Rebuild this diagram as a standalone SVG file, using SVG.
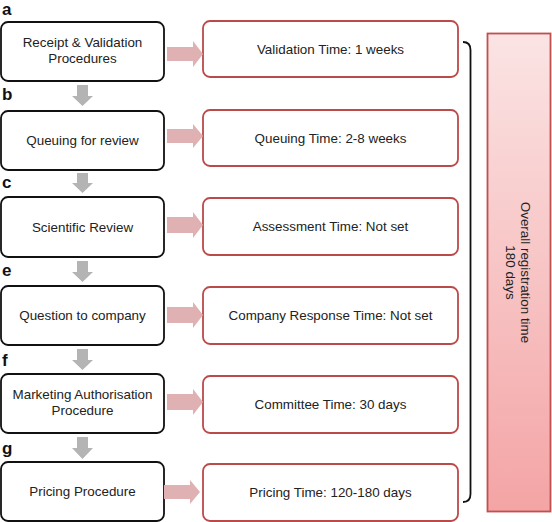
<svg xmlns="http://www.w3.org/2000/svg" width="552" height="522" viewBox="0 0 552 522">
<defs>
<linearGradient id="pinkGrad" x1="0" y1="0" x2="0" y2="1">
<stop offset="0" stop-color="#fbe4e4"/>
<stop offset="1" stop-color="#f4a4a5"/>
</linearGradient>
<style>
.step{fill:#fff;stroke:#111;stroke-width:1.8}
.time{fill:#fff;stroke:#bb4a4a;stroke-width:1.8}
.t{font-family:"Liberation Sans",Arial,sans-serif;font-size:13.4px;fill:#222;text-anchor:middle}
.lbl{font-family:"Liberation Sans",Arial,sans-serif;font-size:17px;font-weight:bold;fill:#111}
.garrow{fill:#b4b4b4}
.parrow{fill:#dfb1b2}
</style>
</defs>
<rect width="552" height="522" fill="#fff"/>

<g id="labels">
<text class="lbl" x="2" y="15">a</text>
<text class="lbl" x="2" y="100">b</text>
<text class="lbl" x="2" y="188">c</text>
<text class="lbl" x="2" y="276">e</text>
<text class="lbl" x="2" y="366">f</text>
<text class="lbl" x="2" y="454">g</text>
</g>

<g id="step-a"><rect class="step" x="1" y="22" width="163" height="59" rx="7"/><text class="t" x="82.5" y="47">Receipt &amp; Validation</text><text class="t" x="82.5" y="63">Procedures</text></g>
<g id="step-b"><rect class="step" x="1" y="111" width="163" height="59" rx="7"/><text class="t" x="82.5" y="145">Queuing for review</text></g>
<g id="step-c"><rect class="step" x="1" y="197" width="163" height="60" rx="7"/><text class="t" x="82.5" y="231.5">Scientific Review</text></g>
<g id="step-e"><rect class="step" x="1" y="286" width="163" height="59" rx="7"/><text class="t" x="82.5" y="320">Question to company</text></g>
<g id="step-f"><rect class="step" x="1" y="374" width="163" height="59" rx="7"/><text class="t" x="82.5" y="399">Marketing Authorisation</text><text class="t" x="82.5" y="415">Procedure</text></g>
<g id="step-g"><rect class="step" x="1" y="462" width="163" height="59" rx="7"/><text class="t" x="82.5" y="496">Pricing Procedure</text></g>

<g id="time-a"><rect class="time" x="203" y="21" width="255" height="56" rx="7"/><text class="t" x="330.5" y="53.5">Validation Time: 1 weeks</text></g>
<g id="time-b"><rect class="time" x="203" y="110" width="255" height="56" rx="7"/><text class="t" x="330.5" y="142.5">Queuing Time: 2-8 weeks</text></g>
<g id="time-c"><rect class="time" x="203" y="198" width="255" height="57" rx="7"/><text class="t" x="330.5" y="231">Assessment Time: Not set</text></g>
<g id="time-e"><rect class="time" x="203" y="287" width="255" height="57" rx="7"/><text class="t" x="330.5" y="320">Company Response Time: Not set</text></g>
<g id="time-f"><rect class="time" x="203" y="376" width="255" height="57" rx="7"/><text class="t" x="330.5" y="409">Committee Time: 30 days</text></g>
<g id="time-g"><rect class="time" x="203" y="464" width="255" height="57" rx="7"/><text class="t" x="330.5" y="497">Pricing Time: 120-180 days</text></g>

<g id="overall">
<rect x="487.5" y="33.5" width="63" height="478" fill="url(#pinkGrad)" stroke="#c0504f" stroke-width="1.8"/>
<g transform="translate(521,272.5) rotate(90)">
<text class="t" x="0" y="0">Overall registration time</text>
<text class="t" x="0" y="15">180 days</text>
</g>
</g>

<g id="connectors">
<path d="M463,42 Q470.5,42 470.5,50 L470.5,494 Q470.5,502 463,502" fill="none" stroke="#111" stroke-width="1.8"/>
<polygon class="parrow" points="167,47 193,47 193,41 203,54 193,67 193,61 167,61"/>
<polygon class="parrow" points="167,129 193,129 193,124 203,136 193,148 193,143 167,143"/>
<polygon class="parrow" points="167,217 193,217 193,212 203,225 193,238 193,233 167,233"/>
<polygon class="parrow" points="167,307 193,307 193,302 203,315 193,328 193,323 167,323"/>
<polygon class="parrow" points="167,394 193,394 193,389 203,402 193,415 193,410 167,410"/>
<polygon class="parrow" points="164,485 190,485 190,480 200,492 190,504 190,499 164,499"/>
<polygon class="garrow" points="77,85 88,85 88,96 93,96 82.5,106 72,96 77,96"/>
<polygon class="garrow" points="77,173 88,173 88,183 93,183 82.5,193 72,183 77,183"/>
<polygon class="garrow" points="77,261 88,261 88,272 93,272 82.5,282 72,272 77,272"/>
<polygon class="garrow" points="77,349 88,349 88,360 93,360 82.5,370 72,360 77,360"/>
<polygon class="garrow" points="77,437 88,437 88,448 93,448 82.5,459 72,448 77,448"/>
</g>
</svg>
